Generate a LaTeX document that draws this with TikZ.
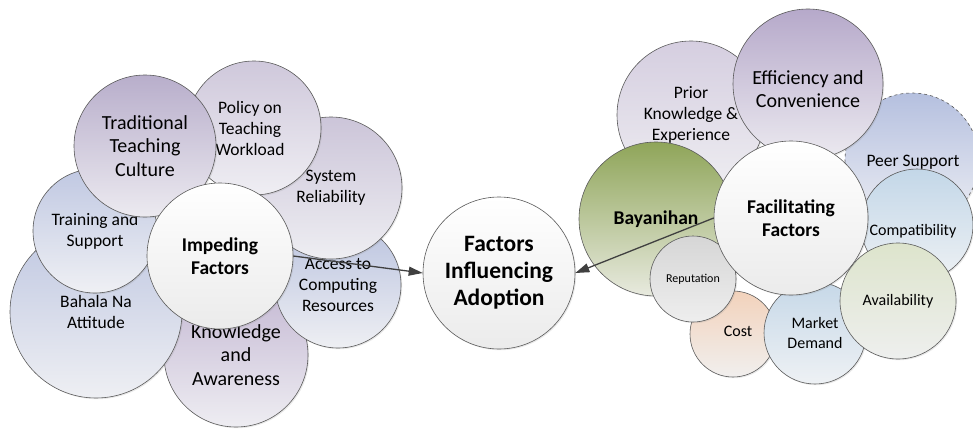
\documentclass[tikz,border=0pt]{standalone}
\usepackage{fontspec}
\setmainfont{Carlito}
\usetikzlibrary{shadows,arrows.meta}

% fills: top / bottom of each gradient
\definecolor{tradT}{HTML}{B8AECB}\definecolor{tradB}{HTML}{ECEAF0}
\definecolor{polT}{HTML}{CFC8DB}\definecolor{polB}{HTML}{EFEEF3}
\definecolor{sysT}{HTML}{CCC5D9}\definecolor{sysB}{HTML}{EEEEF2}
\definecolor{accT}{HTML}{BAC3DF}\definecolor{accB}{HTML}{EEEFF3}
\definecolor{trnT}{HTML}{C0C8E2}\definecolor{trnB}{HTML}{EFF0F4}
\definecolor{bahT}{HTML}{BFC7E1}\definecolor{bahB}{HTML}{EEEFF3}
\definecolor{knwT}{HTML}{C4B8D3}\definecolor{knwB}{HTML}{EEEDF2}
\definecolor{whtB}{HTML}{EBEBEB}
\definecolor{priT}{HTML}{D5CEE0}\definecolor{priB}{HTML}{EEEDF1}
\definecolor{effT}{HTML}{B6A9CA}\definecolor{effB}{HTML}{ECEAF0}
\definecolor{peeT}{HTML}{B5C0DF}\definecolor{peeB}{HTML}{EEEFF4}
\definecolor{comT}{HTML}{C3D7E8}\definecolor{comB}{HTML}{EEF1F4}
\definecolor{avaT}{HTML}{DDE4CC}\definecolor{avaB}{HTML}{EEEFEE}
\definecolor{mktT}{HTML}{C6D8E8}\definecolor{mktB}{HTML}{EEF1F4}
\definecolor{cstT}{HTML}{F2D2BB}\definecolor{cstB}{HTML}{F1EFEE}
\definecolor{repT}{HTML}{D6D6D6}\definecolor{repB}{HTML}{EEEEEE}
\definecolor{bayT}{HTML}{8FA559}\definecolor{bayB}{HTML}{E8EADF}
\definecolor{rimc}{HTML}{5A5A5A}
\definecolor{arrc}{HTML}{404040}

\begin{document}
\begin{tikzpicture}[x=1pt,y=-1pt,
  bubble/.style={circle, draw=rimc, line width=0.6pt, inner sep=0pt,
    align=center, minimum size=#1,
    drop shadow={opacity=0.18, shadow xshift=1.2pt, shadow yshift=-1.2pt}},
  fill2/.style n args={2}{top color=#1, bottom color=#2},
  txt/.style={inner sep=0pt, align=center},
  f16/.style={font=\fontsize{16}{19.5}\selectfont},
  f17/.style={font=\fontsize{17.5}{21}\selectfont},
  f20/.style={font=\fontsize{20}{23.5}\selectfont},
  fb/.style={font=\fontsize{19.5}{23.5}\selectfont\bfseries},
  link/.style={draw=arrc, line width=1.3pt, -{Triangle[length=14pt,width=9pt]}}
]
\useasboundingbox (0,0) rectangle (973,428);
\clip (0,0) rectangle (973,428);

% ---- impeding factors cluster ----
\node[bubble=144pt, fill2={knwT}{knwB}, f20] (know) at (236,355) {Knowledge\\and\\Awareness};
\node[bubble=172pt, fill2={bahT}{bahB}, f17] (bahala) at (96,312) {Bahala Na\\Attitude};
\node[bubble=124pt, fill2={trnT}{trnB}, f17] (train) at (95,231) {Training and\\Support};
\node[bubble=126pt, fill2={accT}{accB}, f17] (access) at (338,285) {Access to\\Computing\\Resources};
\node[bubble=142pt, fill2={sysT}{sysB}, f17] (system) at (331,188) {System\\Reliability};
\node[bubble=134pt, fill2={polT}{polB}] (policy) at (254,128) {};
\node[txt, f17] (policytxt) at (250,128) {Policy on\\Teaching\\Workload};
\node[bubble=142pt, fill2={tradT}{tradB}, f20] (trad) at (145,146) {Traditional\\Teaching\\Culture};
\node[bubble=146pt, fill2={white}{whtB}, fb] (imp) at (220,256) {Impeding\\Factors};

% ---- centre ----
\node[bubble=152pt, fill2={white}{whtB}, font=\fontsize{23.5}{27}\selectfont\bfseries] (fia) at (499,273) {Factors\\Influencing\\Adoption};

% ---- facilitating factors cluster ----
\node[bubble=148pt, fill2={priT}{priB}, f17] (prior) at (691,115) {Prior\\Knowledge \&\\Experience};
\node[bubble=134pt, fill2={peeT}{peeB}, dashed, f17] (peer) at (912,160) {};
\node[txt, f17] (peertxt) at (913,162) {Peer Support};
\node[bubble=150pt, fill2={effT}{effB}] (eff) at (808,84) {};
\node[txt, f20] (efftxt) at (808,89) {Efficiency and\\Convenience};
\node[bubble=112pt, fill2={comT}{comB}] (compat) at (917,225) {};
\node[txt, f16] (compattxt) at (913,231) {Compatibility};
\node[bubble=86pt, fill2={cstT}{cstB}] (cost) at (733,334) {};
\node[txt, f16] (costtxt) at (738,331) {Cost};
\node[bubble=102pt, fill2={mktT}{mktB}, f16] (market) at (815,333) {Market\\Demand};
\node[bubble=116pt, fill2={avaT}{avaB}, f16] (avail) at (898,301) {Availability};
\node[bubble=154pt, fill2={bayT}{bayB}, fb] (bayan) at (656,219) {Bayanihan};
\node[bubble=86pt, fill2={repT}{repB}, font=\fontsize{12}{14}\selectfont] (reput) at (693,279) {Reputation};
\node[bubble=154pt, fill2={white}{whtB}, fb] (fac) at (791,218) {Facilitating\\Factors};

% ---- connectors ----
\draw[link] (imp.east) -- (fia.west);
\draw[link] (fac.west) -- (fia.east);
\end{tikzpicture}
\end{document}
